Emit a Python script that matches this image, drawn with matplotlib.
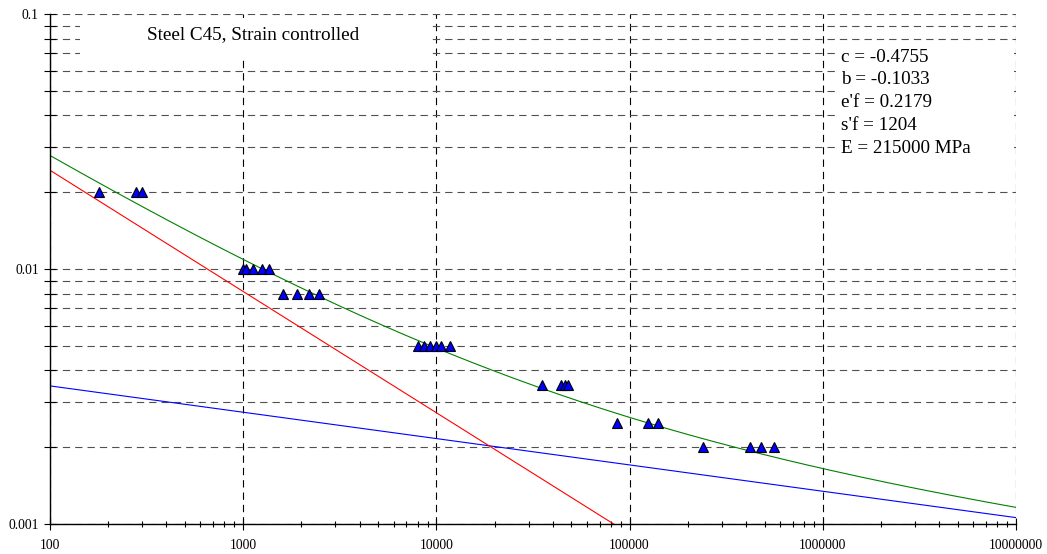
import numpy as np
import matplotlib.pyplot as plt
from matplotlib.patches import Rectangle
from matplotlib.ticker import LogLocator, NullFormatter, FixedFormatter, FixedLocator

plt.rcParams['font.family'] = ['Liberation Serif', 'DejaVu Serif']

# fitted Coffin-Manson parameters (shown in the chart)
c = -0.4755
b = -0.1033
ef = 0.2179
sf = 1204
E = 215000

# test points: reversals to failure, strain amplitude
n_test = [180, 280, 300,
          1000, 1040, 1120, 1250, 1360,
          1600, 1900, 2180, 2470,
          8000, 8600, 9300, 10000, 10600, 11800,
          35000, 44000, 46300, 48200,
          85800, 124000, 140000,
          241000, 420000, 479000, 559000]
eps_test = [0.02, 0.02, 0.02,
            0.01, 0.01, 0.01, 0.01, 0.01,
            0.008, 0.008, 0.008, 0.008,
            0.005, 0.005, 0.005, 0.005, 0.005, 0.005,
            0.0035, 0.0035, 0.0035, 0.0035,
            0.0025, 0.0025, 0.0025,
            0.002, 0.002, 0.002, 0.002]

x_ticks = [100, 1000, 10000, 100000, 1000000, 10000000]
x_labels = ['100', '1000', '10000', '100000', '1000000', '10000000']
y_ticks = [0.001, 0.01, 0.1]
y_labels = ['0.001', '0.01', '0.1']

title_text = 'Steel C45, Strain controlled'
param_lines = ['c = %g' % c, 'b = %g' % b, "e'f = %g" % ef,
               "s'f = %g" % sf, 'E = %d MPa' % E]

n = np.logspace(2, 7, 400)
elastic = sf / E * n ** b
plastic = ef * n ** c
total = elastic + plastic

fig = plt.figure(figsize=(10.47, 5.54), dpi=100)
ax = fig.add_axes([50 / 1047, 1 - 524 / 554, 966 / 1047, 510 / 554])
ax.set_xscale('log')
ax.set_yscale('log')
ax.set_xlim(100, 1e7)
ax.set_ylim(0.001, 0.1)
ax.set_axisbelow(True)

ax.plot(n, elastic, color='#0000ff', lw=0.8, zorder=2)
ax.plot(n, plastic, color='#ff0000', lw=0.8, zorder=2)
ax.plot(n, total, color='#008000', lw=0.8, zorder=2)
ax.plot(n_test, eps_test, linestyle='none', marker='^', ms=7,
        mfc='#0000ff', mec='black', mew=0.8, zorder=3)

# grid
dash = (0, (6.6, 4.5))
ax.xaxis.set_major_locator(FixedLocator(x_ticks))
ax.xaxis.set_major_formatter(FixedFormatter(x_labels))
ax.xaxis.set_minor_locator(LogLocator(base=10, subs=np.arange(2, 10)))
ax.xaxis.set_minor_formatter(NullFormatter())
ax.yaxis.set_major_locator(FixedLocator(y_ticks))
ax.yaxis.set_major_formatter(FixedFormatter(y_labels))
ax.yaxis.set_minor_locator(LogLocator(base=10, subs=np.arange(2, 10)))
ax.yaxis.set_minor_formatter(NullFormatter())
ax.grid(True, which='major', axis='x', color='black', lw=0.8, linestyle=dash)
ax.grid(True, which='both', axis='y', color='#505050', lw=0.8, linestyle=dash)

for s in ['top', 'right']:
    ax.spines[s].set_visible(False)
for s in ['left', 'bottom']:
    ax.spines[s].set_linewidth(1.0)

ax.tick_params(which='both', direction='inout', labelsize=9.8, width=0.8)
ax.tick_params(axis='y', which='both', length=8)
ax.tick_params(axis='x', which='major', length=8)
ax.tick_params(axis='x', which='minor', length=5)
ax.tick_params(axis='x', which='major', pad=7)
ax.tick_params(axis='y', which='major', pad=4)

# white boxes behind the texts
ax.add_patch(Rectangle((0.031, 0.91), 0.362, 0.082, transform=ax.transAxes,
                       fc='white', ec='none', zorder=1))
ax.add_patch(Rectangle((0.815, 0.718), 0.183, 0.227, transform=ax.transAxes,
                       fc='white', ec='none', zorder=1))

ax.text(0.1004, 0.96, title_text, transform=ax.transAxes, fontsize=13.8,
        va='center', ha='left', zorder=4)
for i, line in enumerate(param_lines):
    py = 57 + i * 22.8
    ax.text(0.819, 1 - (py - 14) / 510, line, transform=ax.transAxes,
            fontsize=13.8, va='center', ha='left', zorder=4)

fig.savefig('out.png', dpi=100)
